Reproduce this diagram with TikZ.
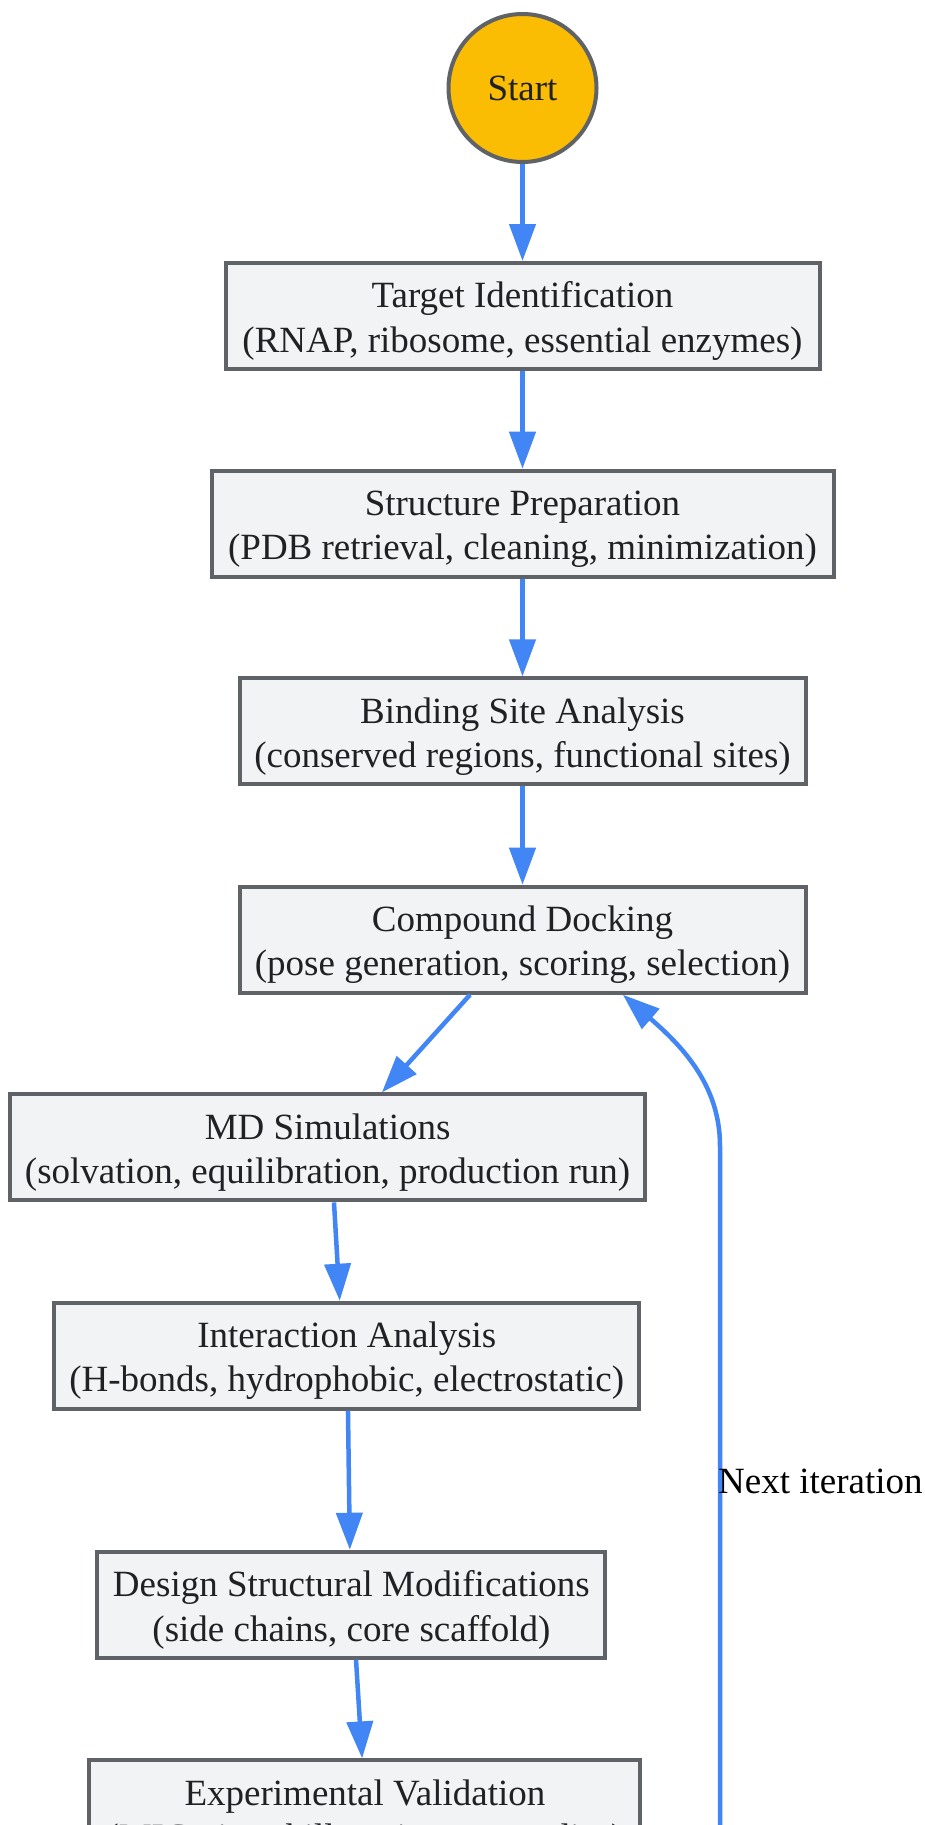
\documentclass[tikz,border=0pt]{standalone}
\usepackage{fontspec}
\setmainfont{Liberation Serif}
\usetikzlibrary{arrows.meta,calc}
\definecolor{edgeblue}{HTML}{4285F4}
\definecolor{boxline}{HTML}{5F6368}
\definecolor{boxfill}{HTML}{F1F3F4}
\definecolor{txt}{HTML}{202124}
\definecolor{startfill}{HTML}{FBBC04}
\newcommand\toppad{\rule{0pt}{36pt}}
\tikzset{
  stepbox/.style={draw=boxline, line width=4pt, fill=boxfill, align=center, inner sep=0pt,
    minimum height=106pt, text=txt, font=\fontsize{37}{44.5}\selectfont},
  startnode/.style={circle, draw=boxline, line width=4pt, fill=startfill, inner sep=0pt,
    minimum size=148pt, text=txt, font=\fontsize{37}{43}\selectfont},
  flow/.style={draw=edgeblue, line width=4.5pt, -{Triangle[length=37pt,width=26pt]}},
  elabel/.style={text=black, inner sep=0pt, font=\fontsize{37}{43}\selectfont}
}
\begin{document}
\begin{tikzpicture}[x=1pt,y=-1pt]
\clip (0,0) rectangle (924,1825);
\useasboundingbox (0,0) rectangle (924,1825);
\node[startnode] (start) at (522.5,88) {Start};
\node[stepbox, minimum width=594pt] (t1) at (522.5,316) {\toppad Target Identification\\(RNAP, ribosome, essential enzymes)};
\node[stepbox, minimum width=622pt] (t2) at (522.5,523.7) {\toppad Structure Preparation\\(PDB retrieval, cleaning, minimization)};
\node[stepbox, minimum width=566pt] (t3) at (522.5,731.4) {\toppad Binding Site Analysis\\(conserved regions, functional sites)};
\node[stepbox, minimum width=566pt] (t4) at (522.5,939.7) {\toppad Compound Docking\\(pose generation, scoring, selection)};
\node[stepbox, minimum width=635pt] (md) at (327.6,1147.4) {\toppad MD Simulations\\(solvation, equilibration, production run)};
\node[stepbox, minimum width=585pt] (ia) at (346.8,1355.7) {\toppad Interaction Analysis\\(H-bonds, hydrophobic, electrostatic)};
\node[stepbox, minimum width=508pt] (dsm) at (351.4,1604.7) {\toppad Design Structural Modifications\\(side chains, core scaffold)};
\node[stepbox, minimum width=551pt] (ev) at (364.9,1813.4) {\toppad Experimental Validation\\(MIC, time-kill, resistance studies)};

\draw[flow] (start.south) -- (t1.north);
\draw[flow] (t1.south) -- (t2.north);
\draw[flow] (t2.south) -- (t3.north);
\draw[flow] (t3.south) -- (t4.north);
\draw[flow] ($(t4.south west)!0.408!(t4.south east)$) -- ($(md.north west)!0.585!(md.north east)$);
\draw[flow] ($(md.south west)!0.510!(md.south east)$) -- ($(ia.north west)!0.488!(ia.north east)$);
\draw[flow] ($(ia.south west)!0.502!(ia.south east)$) -- ($(dsm.north west)!0.497!(dsm.north east)$);
\draw[flow] ($(dsm.south west)!0.509!(dsm.south east)$) -- ($(ev.north west)!0.495!(ev.north east)$);

\coordinate (loopstart) at (720,1900);
\coordinate (loopbend) at (720,1146);
\draw[flow] (loopstart) -- (loopbend) .. controls (720,1085) and (682,1046) .. ($(t4.south west)!0.676!(t4.south east)$);
\node[elabel, anchor=west] (lbl) at (718,1481) {Next iteration};
\end{tikzpicture}
\end{document}
